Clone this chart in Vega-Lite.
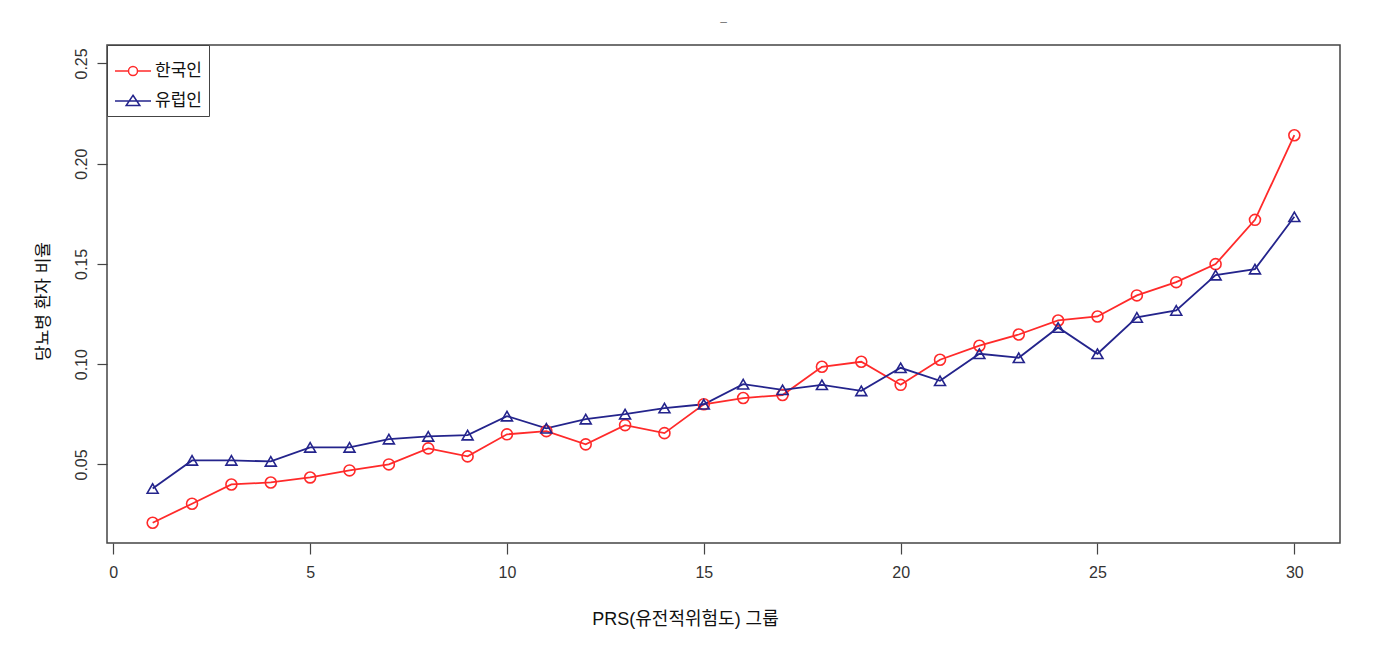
{
  "$schema": "https://vega.github.io/schema/vega-lite/v6.json",
  "autosize": {"type": "none"},
  "padding": {"left": 107, "top": 45, "right": 56, "bottom": 111},
  "width": 1233,
  "height": 498,
  "background": "white",
  "title": {"text": "–", "fontSize": 12, "color": "#777", "fontWeight": "normal", "offset": 16, "anchor": "middle"},
  "config": {
    "font": "Liberation Sans, Noto Sans CJK KR",
    "view": {"stroke": "#444", "strokeWidth": 1.5}
  },
  "data": {"values": [
    {"g": 1, "grp": "한국인", "v": 0.0209}, {"g": 2, "grp": "한국인", "v": 0.0304}, {"g": 3, "grp": "한국인", "v": 0.0400},
    {"g": 4, "grp": "한국인", "v": 0.0410}, {"g": 5, "grp": "한국인", "v": 0.0435}, {"g": 6, "grp": "한국인", "v": 0.0470},
    {"g": 7, "grp": "한국인", "v": 0.0500}, {"g": 8, "grp": "한국인", "v": 0.0580}, {"g": 9, "grp": "한국인", "v": 0.0540},
    {"g": 10, "grp": "한국인", "v": 0.0650}, {"g": 11, "grp": "한국인", "v": 0.0666}, {"g": 12, "grp": "한국인", "v": 0.0600},
    {"g": 13, "grp": "한국인", "v": 0.0696}, {"g": 14, "grp": "한국인", "v": 0.0656}, {"g": 15, "grp": "한국인", "v": 0.0800},
    {"g": 16, "grp": "한국인", "v": 0.0831}, {"g": 17, "grp": "한국인", "v": 0.0846}, {"g": 18, "grp": "한국인", "v": 0.0987},
    {"g": 19, "grp": "한국인", "v": 0.1012}, {"g": 20, "grp": "한국인", "v": 0.0897}, {"g": 21, "grp": "한국인", "v": 0.1022},
    {"g": 22, "grp": "한국인", "v": 0.1092}, {"g": 23, "grp": "한국인", "v": 0.1148}, {"g": 24, "grp": "한국인", "v": 0.1218},
    {"g": 25, "grp": "한국인", "v": 0.1238}, {"g": 26, "grp": "한국인", "v": 0.1343}, {"g": 27, "grp": "한국인", "v": 0.1409},
    {"g": 28, "grp": "한국인", "v": 0.1499}, {"g": 29, "grp": "한국인", "v": 0.1720}, {"g": 30, "grp": "한국인", "v": 0.2142},
    {"g": 1, "grp": "유럽인", "v": 0.0380}, {"g": 2, "grp": "유럽인", "v": 0.0520}, {"g": 3, "grp": "유럽인", "v": 0.0520},
    {"g": 4, "grp": "유럽인", "v": 0.0515}, {"g": 5, "grp": "유럽인", "v": 0.0585}, {"g": 6, "grp": "유럽인", "v": 0.0585},
    {"g": 7, "grp": "유럽인", "v": 0.0626}, {"g": 8, "grp": "유럽인", "v": 0.0640}, {"g": 9, "grp": "유럽인", "v": 0.0646},
    {"g": 10, "grp": "유럽인", "v": 0.0741}, {"g": 11, "grp": "유럽인", "v": 0.0680}, {"g": 12, "grp": "유럽인", "v": 0.0726},
    {"g": 13, "grp": "유럽인", "v": 0.0751}, {"g": 14, "grp": "유럽인", "v": 0.0781}, {"g": 15, "grp": "유럽인", "v": 0.0800},
    {"g": 16, "grp": "유럽인", "v": 0.0900}, {"g": 17, "grp": "유럽인", "v": 0.0872}, {"g": 18, "grp": "유럽인", "v": 0.0897},
    {"g": 19, "grp": "유럽인", "v": 0.0867}, {"g": 20, "grp": "유럽인", "v": 0.0982}, {"g": 21, "grp": "유럽인", "v": 0.0917},
    {"g": 22, "grp": "유럽인", "v": 0.1052}, {"g": 23, "grp": "유럽인", "v": 0.1032}, {"g": 24, "grp": "유럽인", "v": 0.1183},
    {"g": 25, "grp": "유럽인", "v": 0.1052}, {"g": 26, "grp": "유럽인", "v": 0.1233}, {"g": 27, "grp": "유럽인", "v": 0.1268},
    {"g": 28, "grp": "유럽인", "v": 0.1444}, {"g": 29, "grp": "유럽인", "v": 0.1474}, {"g": 30, "grp": "유럽인", "v": 0.1735}
  ]},
  "encoding": {
    "x": {"field": "g", "type": "quantitative",
      "scale": {"domain": [-0.16, 31.16], "nice": false, "zero": false},
      "axis": {"values": [0, 5, 10, 15, 20, 25, 30], "domain": false, "grid": false,
        "tickSize": 11, "tickColor": "#444", "tickWidth": 1.2,
        "labelFontSize": 16, "labelColor": "#333", "labelPadding": 10,
        "title": "PRS(유전적위험도) 그룹", "titleFontSize": 18, "titleFontWeight": "normal", "titleColor": "#111", "titlePadding": 30, "titleX": 578}},
    "y": {"field": "v", "type": "quantitative",
      "scale": {"domain": [0.0108, 0.2592], "nice": false, "zero": false},
      "axis": {"values": [0.05, 0.1, 0.15, 0.2, 0.25], "format": ".2f", "domain": false, "grid": false,
        "tickSize": 10, "tickColor": "#444", "tickWidth": 1.2,
        "labelAngle": 270, "labelAlign": "center", "labelBaseline": "bottom",
        "labelFontSize": 16, "labelColor": "#333", "labelPadding": 8,
        "title": "당뇨병 환자 비율", "titleFontSize": 17, "titleFontWeight": "normal", "titleColor": "#111", "titlePadding": 21, "titleY": 256}},
    "color": {"field": "grp", "type": "nominal",
      "scale": {"domain": ["한국인", "유럽인"], "range": ["#ff2a2a", "#24248c"]}}
  },
  "layer": [
    {"mark": {"type": "line", "strokeWidth": 1.8},
     "encoding": {"color": {"field": "grp", "type": "nominal", "legend": null,
        "scale": {"domain": ["한국인", "유럽인"], "range": ["#ff2a2a", "#24248c"]}},
       "detail": {"field": "grp"}}},
    {"mark": {"type": "point", "filled": false, "size": 120, "strokeWidth": 1.6, "opacity": 1},
     "encoding": {
       "color": {"field": "grp", "type": "nominal", "legend": null,
         "scale": {"domain": ["한국인", "유럽인"], "range": ["#ff2a2a", "#24248c"]}},
       "shape": {"field": "grp", "type": "nominal", "legend": null,
         "scale": {"domain": ["한국인", "유럽인"], "range": ["circle", "triangle-up"]}}}},
    {"mark": {"type": "point", "filled": false, "size": 120, "strokeWidth": 1.6, "opacity": 0},
     "encoding": {
       "color": {"field": "grp", "type": "nominal",
         "scale": {"domain": ["한국인", "유럽인"], "range": ["#ff2a2a", "#24248c"]},
         "legend": {"title": null, "orient": "top-left", "offset": 0, "strokeColor": "#444", "fillColor": "white",
           "padding": 7, "symbolSize": 1296, "symbolStrokeWidth": 1.5, "symbolOpacity": 1,
           "labelFontSize": 17, "labelColor": "#111", "labelOffset": 3, "rowPadding": 3}},
       "shape": {"field": "grp", "type": "nominal",
         "scale": {"domain": ["한국인", "유럽인"], "range": [
           "M-1,0H-0.25A0.25,0.25 0 1,1 0.25,0A0.25,0.25 0 1,1 -0.25,0M0.25,0H1",
           "M-1,0H1M0,-0.32L0.38,0.25H-0.38Z"]},
         "legend": {"title": null, "orient": "top-left", "offset": 0, "strokeColor": "#444", "fillColor": "white",
           "padding": 7, "symbolSize": 1296, "symbolStrokeWidth": 1.5, "symbolOpacity": 1,
           "labelFontSize": 17, "labelColor": "#111", "labelOffset": 3, "rowPadding": 3}}}}
  ],
  "resolve": {"scale": {"shape": "independent"}, "legend": {"color": "independent", "shape": "independent"}}
}
